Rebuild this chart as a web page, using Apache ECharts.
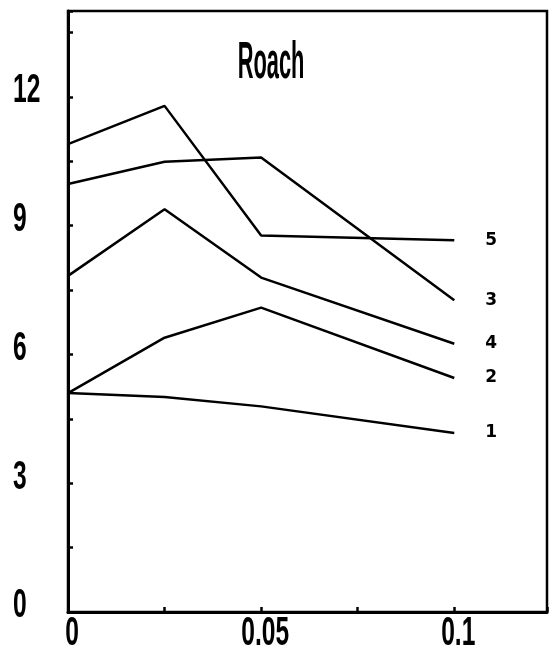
<!DOCTYPE html>
<html>
<head>
<meta charset="utf-8">
<script src="https://cdn.jsdelivr.net/npm/echarts@6/dist/echarts.min.js"></script>
<style>
  html, body { margin: 0; padding: 0; background: #ffffff; }
  #chart { width: 552px; height: 655px; }
</style>
</head>
<body>
<div id="chart"></div>
<script>
// Concentration levels on the x axis
const concentrations = [0, 0.025, 0.05, 0.1];

// One line per group, labelled at its right end
const line1 = [5.10, 5.01, 4.79, 4.17];
const line2 = [5.10, 6.39, 7.09, 5.45];
const line3 = [9.97, 10.49, 10.59, 7.26];
const line4 = [7.83, 9.38, 7.79, 6.25];
const line5 = [10.90, 11.79, 8.77, 8.66];
const lineNames = ['1', '2', '3', '4', '5'];
const lineValues = [line1, line2, line3, line4, line5];

// Labelled ticks (the other ticks are drawn unlabelled)
const yTickLabels = [0, 3, 6, 9, 12];
const xTickLabels = ['0', '0.05', '0.1'];

const chartTitle = 'Roach';

// Tall, narrow plotter-style lettering: a bold sans squeezed horizontally
const labelFont = 'bold 41px "Liberation Sans", "DejaVu Sans", sans-serif';
const labelSqueeze = 0.6;

const chart = echarts.init(document.getElementById('chart'), null, { renderer: 'canvas' });

chart.setOption({
  backgroundColor: '#ffffff',
  animation: false,
  grid: {
    left: 68, right: 5, top: 11, bottom: 43,
    show: true,
    borderColor: '#000000',
    borderWidth: 2.5,
    containLabel: false
  },
  xAxis: {
    type: 'value',
    min: 0,
    max: 0.124,
    interval: 0.025,
    splitLine: { show: false },
    axisLine: { lineStyle: { color: '#000', width: 3 } },
    axisTick: { inside: true, length: 5, lineStyle: { color: '#000', width: 2.5 } },
    axisLabel: { show: false }
  },
  yAxis: {
    type: 'value',
    min: 0,
    max: 14,
    interval: 1.5,
    splitLine: { show: false },
    axisLine: { lineStyle: { color: '#000', width: 3 } },
    axisTick: { inside: true, length: 5, lineStyle: { color: '#000', width: 2.5 } },
    axisLabel: { show: false }
  },
  series: lineNames.map(function (name, i) {
    return {
      name: name,
      type: 'line',
      data: concentrations.map(function (c, j) { return [c, lineValues[i][j]]; }),
      showSymbol: false,
      symbol: 'none',
      lineStyle: { color: '#000', width: 2.5 },
      endLabel: {
        show: true,
        formatter: '{a}',
        distance: 31,
        color: '#000',
        fontFamily: '"DejaVu Sans", sans-serif',
        fontWeight: 'bold',
        fontSize: 17
      }
    };
  })
});

// Tick labels: placed at the axis values through the chart's own scales,
// drawn as squeezed text so the digits keep their narrow shape.
const axisX = chart.convertToPixel({ xAxisIndex: 0 }, 0);
const axisY = chart.convertToPixel({ yAxisIndex: 0 }, 0);

const tickTexts = [];
yTickLabels.forEach(function (v) {
  tickTexts.push({
    type: 'text',
    x: axisX - 55,
    y: chart.convertToPixel({ yAxisIndex: 0 }, v) - 6,
    scaleX: labelSqueeze,
    style: { text: String(v), font: labelFont, fill: '#000', align: 'left', verticalAlign: 'middle' }
  });
});
xTickLabels.forEach(function (t) {
  tickTexts.push({
    type: 'text',
    x: chart.convertToPixel({ xAxisIndex: 0 }, parseFloat(t)) + 4,
    y: axisY + 22,
    scaleX: labelSqueeze,
    style: { text: t, font: labelFont, fill: '#000', align: 'center', verticalAlign: 'middle' }
  });
});

chart.setOption({
  graphic: [{
    type: 'text',
    x: 271,
    y: 64,
    scaleX: 0.42,
    style: {
      text: chartTitle,
      font: 'bold 52px "Liberation Sans", sans-serif',
      fill: '#000',
      align: 'center',
      verticalAlign: 'middle'
    }
  }].concat(tickTexts)
});
</script>
</body>
</html>
